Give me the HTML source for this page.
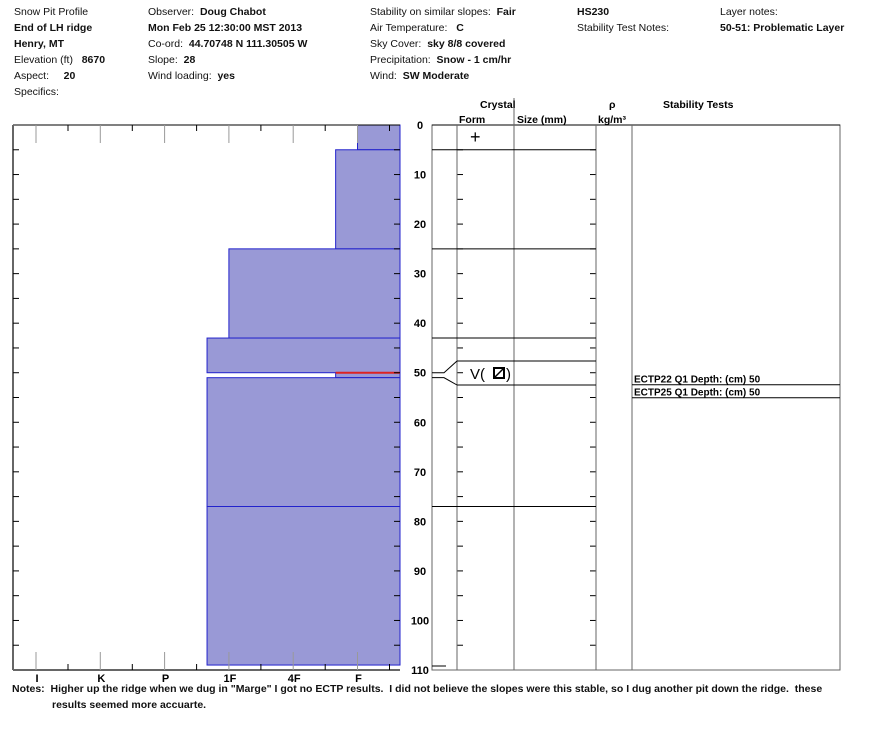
<!DOCTYPE html>
<html><head><meta charset="utf-8"><style>
body{margin:0;background:#fff;width:888px;height:750px;overflow:hidden;font-family:"Liberation Sans",Arial,sans-serif;}
.t{position:absolute;font-size:10.5px;color:#111;white-space:nowrap}
b{font-weight:bold}
</style></head><body>
<div>
<div class="t" style="left:14px;top:6px">Snow Pit Profile</div>
<div class="t" style="left:14px;top:22px"><b>End of LH ridge</b></div>
<div class="t" style="left:14px;top:38px"><b>Henry, MT</b></div>
<div class="t" style="left:14px;top:54px">Elevation (ft) &nbsp;&nbsp;<b>8670</b></div>
<div class="t" style="left:14px;top:70px">Aspect: &nbsp;&nbsp;&nbsp;&nbsp;<b>20</b></div>
<div class="t" style="left:14px;top:86px">Specifics:</div>
<div class="t" style="left:148px;top:6px">Observer: &nbsp;<b>Doug Chabot</b></div>
<div class="t" style="left:148px;top:22px"><b>Mon Feb 25 12:30:00 MST 2013</b></div>
<div class="t" style="left:148px;top:38px">Co-ord: &nbsp;<b>44.70748 N 111.30505 W</b></div>
<div class="t" style="left:148px;top:54px">Slope: &nbsp;<b>28</b></div>
<div class="t" style="left:148px;top:70px">Wind loading: &nbsp;<b>yes</b></div>
<div class="t" style="left:370px;top:6px">Stability on similar slopes: &nbsp;<b>Fair</b></div>
<div class="t" style="left:370px;top:22px">Air Temperature: &nbsp;&nbsp;<b>C</b></div>
<div class="t" style="left:370px;top:38px">Sky Cover: &nbsp;<b>sky 8/8 covered</b></div>
<div class="t" style="left:370px;top:54px">Precipitation: &nbsp;<b>Snow - 1 cm/hr</b></div>
<div class="t" style="left:370px;top:70px">Wind: &nbsp;<b>SW Moderate</b></div>
<div class="t" style="left:577px;top:6px"><b>HS230</b></div>
<div class="t" style="left:577px;top:22px">Stability Test Notes:</div>
<div class="t" style="left:720px;top:6px">Layer notes:</div>
<div class="t" style="left:720px;top:22px"><b>50-51: Problematic Layer</b></div>
</div>
<svg id="c" width="888" height="750" style="position:absolute;left:0;top:0"></svg>
<div class="t" style="left:12px;top:683px;font-weight:bold">Notes: &nbsp;Higher up the ridge when we dug in "Marge" I got no ECTP results. &nbsp;I did not believe the slopes were this stable, so I dug another pit down the ridge. &nbsp;these</div>
<div class="t" style="left:52px;top:699px;font-weight:bold">results seemed more accuarte.</div>
<script>
const hardLabels=["I","K","P","1F","4F","F"];
const layerTop=[0,5,25,43,50,51,77];
const layerBottom=[5,25,43,50,51,77,109];
const layerHard=[5,4.66,3,2.66,4.66,2.66,2.66];
const depthTicks=[0,10,20,30,40,50,60,70,80,90,100,110];
const tests=["ECTP22 Q1 Depth: (cm) 50","ECTP25 Q1 Depth: (cm) 50"];
const S=document.getElementById('c');const NS='http://www.w3.org/2000/svg';
function mk(t,a,p){const e=document.createElementNS(NS,t);for(const k in a)e.setAttribute(k,a[k]);(p||S).appendChild(e);return e;}
const y0=125,y1=670,dmax=110;
const y=d=>y0+d*(y1-y0)/dmax;
const x=h=>36+h*64.3;
const L=13,R=400;
// bars
layerTop.forEach((t,i)=>{const r=mk('rect',{x:x(layerHard[i]),y:y(t),width:R-x(layerHard[i]),height:y(layerBottom[i])-y(t),fill:'#9999d6',stroke:'#2222cc','stroke-width':1});

});
const rl=mk('line',{x1:x(4.66),x2:R,y1:y(50),y2:y(50),stroke:'#dd2222','stroke-width':2});


// axes
mk('line',{x1:L,x2:R,y1:y0,y2:y0,stroke:'#000'});
mk('line',{x1:L,x2:R,y1:y1,y2:y1,stroke:'#666','stroke-width':2});
mk('line',{x1:L,x2:L,y1:y0,y2:y1,stroke:'#666','stroke-width':2});
hardLabels.forEach((l,i)=>{const xx=x(i);
mk('line',{x1:xx,x2:xx,y1:y0,y2:y0+18,stroke:'#999'});
mk('line',{x1:xx,x2:xx,y1:y1,y2:y1-18,stroke:'#999'});
const mx=xx+32;mk('line',{x1:mx,x2:mx,y1:y0,y2:y0+6,stroke:'#000'});mk('line',{x1:mx,x2:mx,y1:y1,y2:y1-6,stroke:'#000'});
const tx=mk('text',{x:xx+1,y:y1+12,'font-size':11,'font-weight':'bold','text-anchor':'middle','font-family':'Liberation Sans'});tx.textContent=l;

});
for(let d=5;d<dmax;d+=5){mk('line',{x1:L,x2:L+6,y1:y(d),y2:y(d),stroke:'#000'});mk('line',{x1:R-6,x2:R,y1:y(d),y2:y(d),stroke:'#000'});
mk('line',{x1:457,x2:463,y1:y(d),y2:y(d),stroke:'#000'});mk('line',{x1:590,x2:596,y1:y(d),y2:y(d),stroke:'#000'});}
depthTicks.forEach(d=>{const tx=mk('text',{x:420,y:y(d)+4,'font-size':11,'font-weight':'bold','text-anchor':'middle','font-family':'Liberation Sans'});tx.textContent=d;

});
// right panel
const P1=432,P2=840;
mk('rect',{x:P1,y:y0,width:P2-P1,height:y1-y0,fill:'none',stroke:'#666'});
mk('line',{x1:P1,x2:P2,y1:y0,y2:y0,stroke:'#000'});
[457,514,596,632].forEach(v=>mk('line',{x1:v,x2:v,y1:y0,y2:y1,stroke:'#666'}));
mk('line',{x1:514,x2:514,y1:98,y2:y0,stroke:'#666'});
mk('line',{x1:P1,x2:446,y1:y1-4,y2:y1-4,stroke:'#000'});
[5,25,43,77].forEach(d=>mk('line',{x1:P1,x2:596,y1:y(d),y2:y(d),stroke:'#000'}));
mk('line',{x1:457,x2:596,y1:361,y2:361,stroke:'#000'});
mk('line',{x1:457,x2:596,y1:385,y2:385,stroke:'#000'});
mk('polyline',{points:`${P1},${y(50)} 444,${y(50)} 457,361`,fill:'none',stroke:'#000'});
mk('polyline',{points:`${P1},${y(51)} 444,${y(51)} 457,385`,fill:'none',stroke:'#000'});
function txt(s,a){const t=mk('text',Object.assign({'font-size':10.5,'font-weight':'bold','font-family':'Liberation Sans'},a));t.textContent=s;return t;}
txt('Crystal',{x:480,y:108});txt('Form',{x:459,y:123});txt('Size (mm)',{x:517,y:123});
txt('ρ',{x:609,y:108});txt('kg/m³',{x:598,y:123});txt('Stability Tests',{x:663,y:108});
txt('+',{x:470,y:143,'font-size':18,'font-weight':'normal'});
txt('V(',{x:470,y:379,'font-size':15,'font-weight':'normal'});
mk('rect',{x:494,y:368,width:10,height:10,fill:'none',stroke:'#000','stroke-width':2});
mk('line',{x1:494,x2:504,y1:378,y2:368,stroke:'#000','stroke-width':1.5});
txt(')',{x:506,y:379,'font-size':15,'font-weight':'normal'});
tests.forEach((s,i)=>{const ty=y(50)+10+i*13;const t=txt(s,{x:634,y:ty,'font-size':10});


mk('line',{x1:632,x2:P2,y1:ty+2,y2:ty+2,stroke:'#000'});});
</script>
</body></html>
